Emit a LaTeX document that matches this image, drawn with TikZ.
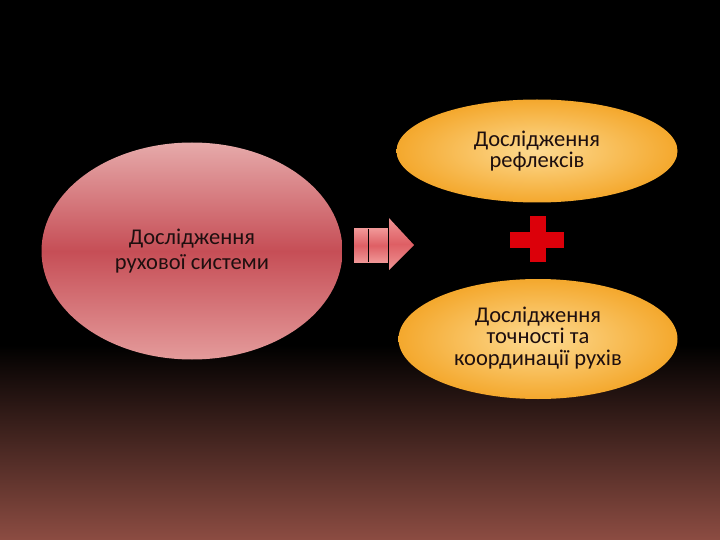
\documentclass[tikz,border=0pt]{standalone}
\usepackage{fontspec}
\setmainfont{Carlito}
\usetikzlibrary{shapes.geometric,shadings}
\definecolor{bgbot}{RGB}{140,76,66}
\definecolor{ltop}{RGB}{230,170,170}
\definecolor{lbot}{RGB}{228,155,155}
\definecolor{lmid}{RGB}{198,78,86}
\definecolor{oin}{RGB}{253,218,145}
\definecolor{oout}{RGB}{244,168,45}
\definecolor{arlt}{RGB}{240,150,150}
\definecolor{armid}{RGB}{222,95,100}
\definecolor{crossred}{RGB}{220,0,10}
\definecolor{txt}{RGB}{30,15,15}
\begin{document}
\begin{tikzpicture}[x=1pt,y=-1pt,
  lbl/.style={align=center,text=txt,font=\fontsize{22.5}{21.5}\selectfont},
  oval/.style={ellipse,inner sep=0pt}]
\useasboundingbox (0,0) rectangle (720,540);
\fill[black] (0,0) rectangle (720,540);
\shade[top color=black,bottom color=bgbot] (0,345) rectangle (720,540);
% left ellipse
\node[oval,minimum width=301pt,minimum height=217pt,
  top color=ltop,bottom color=lbot,middle color=lmid] (L) at (192,251) {};
\node[lbl,font=\fontsize{22.5}{25}\selectfont] (Lt) at (192,251) {Дослідження\\рухової системи};
% top right ellipse
\node[oval,minimum width=281pt,minimum height=103pt,
  inner color=oin,outer color=oout] (T) at (537,151) {};
\node[lbl] (Tt) at (537,151) {Дослідження\\рефлексів};
% bottom right ellipse
\node[oval,minimum width=279pt,minimum height=120pt,
  inner color=oin,outer color=oout] (B) at (538,339) {};
\node[lbl] (Bt) at (538,338) {Дослідження\\точності та\\координації рухів};
% arrow
\shade[top color=arlt,bottom color=arlt,middle color=armid]
  (354,229) rectangle (390,262);
\draw[black,line width=1pt] (368,229) -- (368,262);
\shade[top color=arlt,bottom color=arlt,middle color=armid]
  (388,217) -- (414,245) -- (388,271) -- cycle;
\draw[black,line width=1pt] (388,217) -- (388,271);
% plus
\fill[crossred] (530,216) rectangle (546,262);
\fill[crossred] (510,232) rectangle (564,248);
\end{tikzpicture}
\end{document}
